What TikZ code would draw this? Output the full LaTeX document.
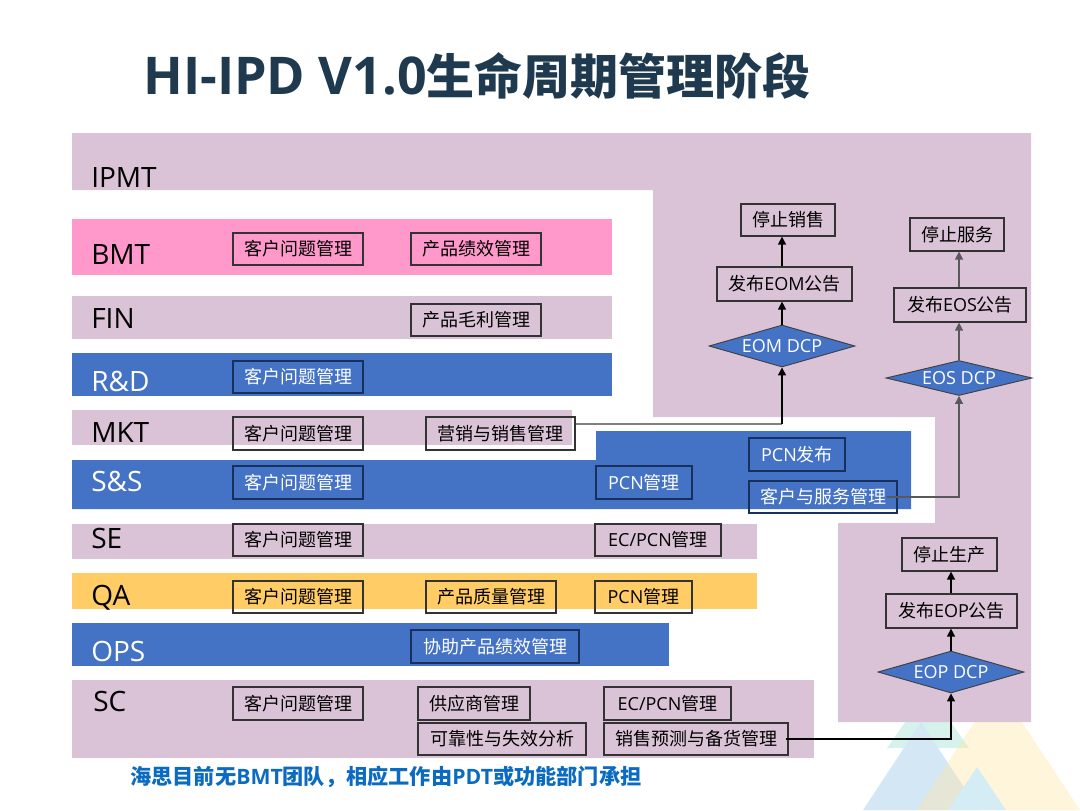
\documentclass[tikz,border=0pt]{standalone}
\usepackage{fontspec}
\setmainfont{Open Sans}
\newfontfamily\cjk{Noto Sans CJK SC}
\usetikzlibrary{arrows.meta,shapes.geometric}
\definecolor{mauve}{HTML}{DAC3D6}
\definecolor{rose}{HTML}{FF99CC}
\definecolor{band}{HTML}{4472C4}
\definecolor{amber}{HTML}{FFCC66}
\definecolor{navy}{HTML}{1F3A4F}
\definecolor{note}{HTML}{0B6BC0}
\definecolor{edgeblue}{HTML}{17305C}
\definecolor{orgreen}{HTML}{D5F2EC}
\definecolor{orblue}{HTML}{D4E7F5}
\definecolor{oryellow}{HTML}{FFE6A5}
\definecolor{orcyan}{HTML}{D4ECF3}
\newcommand{\zh}[1]{{\cjk #1}}
\tikzset{
  lane/.style={fill=#1,draw=none},
  lanename/.style={anchor=base west,inner sep=0pt,font=\fontsize{21}{21}\selectfont,text=black},
  taskbox/.style={draw=#1,line width=0.9pt,inner sep=0pt,text=black,font=\fontsize{13.5}{14}\selectfont},
  taskbox/.default={black!80},
  bluebox/.style={taskbox=edgeblue,text=white},
  gate/.style={diamond,fill=band,draw=black!75,line width=0.7pt,inner sep=0pt,text=white,font=\fontsize{13.5}{14}\selectfont},
  flow/.style={draw=black,line width=1pt,-{Triangle[length=6pt,width=6pt]}},
  softflow/.style={flow,draw=black!65}
}
% a box given by its left, top, right and bottom edges
\newcommand{\taskat}[7][taskbox]{%
  \node[#1,minimum width={(#5-#3)*0.75pt},minimum height={(#6-#4)*0.75pt}] (#2) at ({(#3+#5)/2},{(#4+#6)/2}) {\raisebox{-0.7pt}{#7}};}
\newcommand{\gateat}[6]{%
  \node[gate,minimum width={#5*0.75pt},minimum height={#6*0.75pt}] (#1) at (#3,#4) {\makebox[0pt]{\smash{\raisebox{-5pt}{#2}}}};}
\begin{document}
\begin{tikzpicture}[x=0.75pt,y=-0.75pt]
\useasboundingbox (0,0) rectangle (1080,810);
% corner ornament
\fill[orgreen] (928,690) -- (887,748) -- (969,748) -- cycle;
\fill[orblue] (921,722) -- (863,810) -- (979,810) -- cycle;
\fill[oryellow,opacity=0.4] (998,686) -- (917,810) -- (1080,810) -- cycle;
\fill[orcyan] (977,767) -- (948,810) -- (1006,810) -- cycle;
% IPMT backdrop
\fill[mauve] (72,133) -- (1031,133) -- (1031,722) -- (838,722) -- (838,523) -- (935,523) -- (935,417) -- (653,417) -- (653,190) -- (72,190) -- cycle;
% function lanes
\fill[lane=rose] (72,219) rectangle (612,275);
\fill[lane=mauve] (72,296) rectangle (612,339);
\fill[lane=band] (72,353) rectangle (612,396);
\fill[lane=mauve] (72,410) rectangle (572,445);
\fill[lane=band] (72,460) -- (596,460) -- (596,431) -- (911,431) -- (911,509) -- (72,509) -- cycle;
\fill[lane=mauve] (72,524) rectangle (757,559);
\fill[lane=amber] (72,573) rectangle (757,609);
\fill[lane=band] (72,623) rectangle (669,666);
\fill[lane=mauve] (72,680) rectangle (814,758);
% title and note
\node[anchor=base west,inner sep=0pt,text=navy,font=\fontsize{39}{39}\selectfont\bfseries] (title) at (143,94) {HI-IPD V1.0{\cjk\bfseries\fontsize{36}{36}\selectfont 生命周期管理阶段}};
\node[anchor=base west,inner sep=0pt,text=note,font=\fontsize{15.9}{16}\selectfont\bfseries] (footnote) at (130,784) {{\cjk\bfseries 海思目前无}BMT{\cjk\bfseries 团队，相应工作由}PDT{\cjk\bfseries 或功能部门承担}};
% lane names
\node[lanename] (nIPMT) at (91,187) {IPMT};
\node[lanename] (nBMT) at (91,264) {BMT};
\node[lanename] (nFIN) at (91,328) {FIN};
\node[lanename,text=white] (nRD) at (91,391) {R\&D};
\node[lanename] (nMKT) at (91,442) {MKT};
\node[lanename,text=white] (nSS) at (91,491) {S\&S};
\node[lanename] (nSE) at (91,548) {SE};
\node[lanename] (nQA) at (91,605) {QA};
\node[lanename,text=white] (nOPS) at (91,661) {OPS};
\node[lanename] (nSC) at (93,711) {SC};
% first column
\taskat{bmtA}{233}{233}{363}{265}{\zh{客户问题管理}}
\taskat[bluebox]{rdA}{233}{361}{363}{393}{\zh{客户问题管理}}
\taskat{mktA}{233}{417}{363}{450}{\zh{客户问题管理}}
\taskat[bluebox]{ssA}{233}{466}{363}{499}{\zh{客户问题管理}}
\taskat{seA}{233}{524}{363}{556}{\zh{客户问题管理}}
\taskat{qaA}{233}{581}{363}{613}{\zh{客户问题管理}}
\taskat{scA}{233}{687}{363}{720}{\zh{客户问题管理}}
% middle column
\taskat{bmtB}{411}{233}{541}{265}{\zh{产品绩效管理}}
\taskat{finB}{411}{304}{541}{336}{\zh{产品毛利管理}}
\taskat{mktB}{426}{417}{575}{450}{\zh{营销与销售管理}}
\taskat{qaB}{426}{581}{556}{613}{\zh{产品质量管理}}
\taskat[bluebox]{opsB}{411}{630}{579}{663}{\zh{协助产品绩效管理}}
\taskat{scB}{418}{687}{530}{720}{\zh{供应商管理}}
\taskat{scC}{418}{723}{586}{755}{\zh{可靠性与失效分析}}
% right column
\taskat[bluebox]{ssC}{596}{466}{692}{499}{PCN\zh{管理}}
\taskat{seC}{595}{524}{721}{556}{EC/PCN\zh{管理}}
\taskat{qaC}{595}{581}{692}{613}{PCN\zh{管理}}
\taskat{scD}{604}{687}{731}{720}{EC/PCN\zh{管理}}
\taskat{scE}{604}{723}{788}{755}{\zh{销售预测与备货管理}}
\taskat[bluebox]{pcnPub}{749}{438}{845}{471}{PCN\zh{发布}}
\taskat[bluebox]{cust}{749}{481}{897}{513}{\zh{客户与服务管理}}
% end of life gates
\taskat{stopSale}{741}{204}{835}{236}{\zh{停止销售}}
\taskat{pubEOM}{717}{267}{852}{301}{\zh{发布}EOM\zh{公告}}
\gateat{eom}{EOM DCP}{782}{346}{146}{42}
\taskat{stopSvc}{910}{218}{1004}{251}{\zh{停止服务}}
\taskat{pubEOS}{894}{288}{1026}{322}{\zh{发布}EOS\zh{公告}}
\gateat{eos}{EOS DCP}{959}{378}{146}{35}
\taskat{stopProd}{902}{538}{997}{571}{\zh{停止生产}}
\taskat{pubEOP}{886}{594}{1017}{628}{\zh{发布}EOP\zh{公告}}
\gateat{eop}{EOP DCP}{951}{672}{146}{42}
% connectors
\draw[flow] (eom.north) -- (pubEOM.south -| eom.north);
\draw[flow] (pubEOM.north -| eom.north) -- (stopSale.south -| eom.north);
\draw[softflow] (eos.north) -- (pubEOS.south -| eos.north);
\draw[softflow] (pubEOS.north -| eos.north) -- (stopSvc.south -| eos.north);
\draw[flow] (eop.north) -- (pubEOP.south -| eop.north);
\draw[flow] (pubEOP.north -| eop.north) -- (stopProd.south -| eop.north);
\coordinate (mktTurn) at (eom.south |- 0,424);
\draw[draw=black!50,line width=1pt] (mktB.east |- mktTurn) -- (mktTurn);
\draw[flow] (mktTurn) -- (eom.south);
\draw[softflow] ([xshift=-8pt]cust.east) -| (eos.south);
\draw[flow] ([xshift=-2pt]scE.east) -| (eop.south);
\end{tikzpicture}
\end{document}
